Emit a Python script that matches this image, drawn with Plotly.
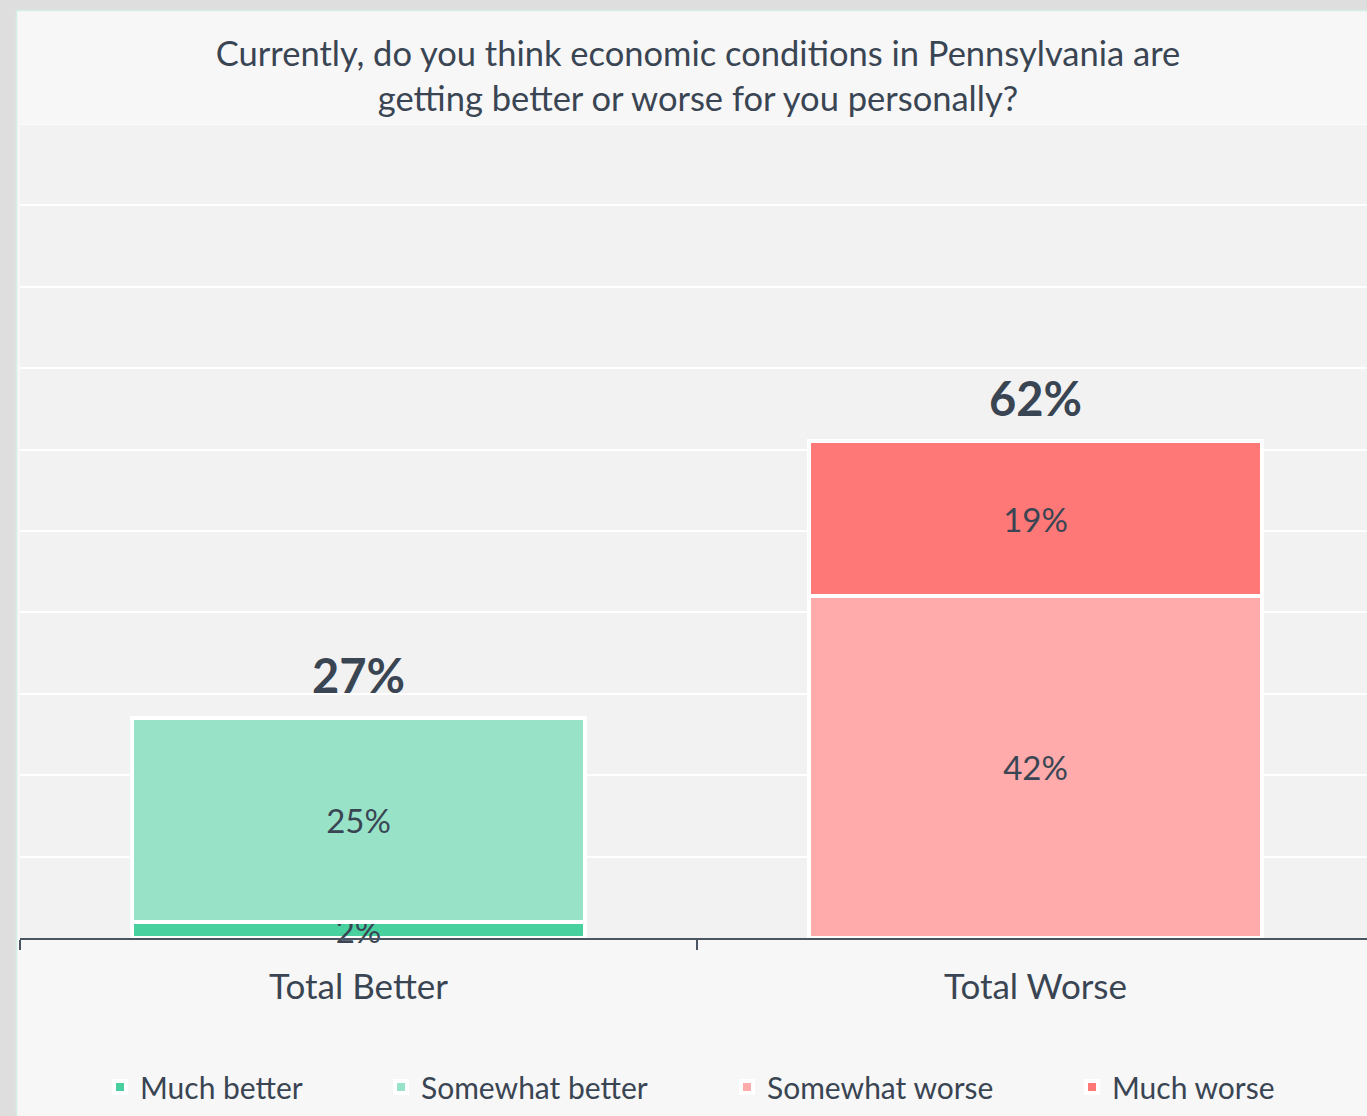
import plotly.graph_objects as go

categories = ["Total Better", "Total Worse"]
much_better = [2, None]
somewhat_better = [25, None]
somewhat_worse = [None, 42]
much_worse = [None, 19]
totals = [27, 62]
total_labels = ["27%", "62%"]

series_names = ["Much better", "Somewhat better", "Somewhat worse", "Much worse"]
series_values = [much_better, somewhat_better, somewhat_worse, much_worse]
series_colors = ["#48d19e", "#98e2c8", "#ffabab", "#ff7878"]

W, H = 1374, 1116
L, R, T, B = 20, 0, 124, 178
PW = W - L - R
PH = H - T - B

def px_x(px):
    return (px - L) / PW

def px_y(py):
    return (H - B - py) / PH

FONT = "Lato"
TXT = "#3a4553"

fig = go.Figure()
legend_x_px = [100, 381, 727, 1072]
legend_ids = ["legend", "legend2", "legend3", "legend4"]
for name, vals, col, lid in zip(series_names, series_values, series_colors, legend_ids):
    fig.add_trace(go.Bar(
        x=categories, y=vals, name=name,
        marker=dict(color=col, line=dict(color="white", width=4)),
        text=[f"{v}%" if v is not None else "" for v in vals],
        textposition="inside", insidetextanchor="middle",
        textfont=dict(family=FONT, size=33, color=TXT),
        width=0.67,
        cliponaxis=False,
        legend=lid,
        hoverinfo="skip",
    ))

for cat, tot, lab in zip(categories, totals, total_labels):
    fig.add_annotation(x=cat, y=tot - 1 if tot == 62 else tot, text=f"<b>{lab}</b>", showarrow=False,
                       yanchor="bottom", yshift=13,
                       font=dict(family=FONT, size=47, color=TXT))

shapes = [
    dict(type="line", xref="paper", yref="y", x0=0, x1=1, y0=100, y1=100,
         line=dict(color="white", width=1.5), layer="below"),
    dict(type="rect", xref="paper", yref="paper", x0=px_x(0), x1=px_x(16), y0=px_y(H), y1=px_y(0),
         fillcolor="#dedede", line=dict(width=0), layer="above"),
    dict(type="rect", xref="paper", yref="paper", x0=px_x(0), x1=px_x(W), y0=px_y(10), y1=px_y(0),
         fillcolor="#dedede", line=dict(width=0), layer="above"),
    dict(type="line", xref="paper", yref="paper", x0=px_x(16.5), x1=px_x(16.5), y0=px_y(H), y1=px_y(10),
         line=dict(color="#d3efe5", width=1.5), layer="above"),
    dict(type="line", xref="paper", yref="paper", x0=px_x(16), x1=px_x(W), y0=px_y(10.5), y1=px_y(10.5),
         line=dict(color="#d3efe5", width=1.5), layer="above"),
]

legends = {}
for lid, lx in zip(legend_ids, legend_x_px):
    legends[lid] = dict(x=px_x(lx), xanchor="left", y=px_y(1087), yanchor="middle",
                        orientation="h", bgcolor="rgba(0,0,0,0)", borderwidth=0,
                        font=dict(family=FONT, size=30, color=TXT))

fig.update_layout(
    width=W, height=H,
    margin=dict(l=L, r=R, t=T, b=B, autoexpand=False),
    paper_bgcolor="#f7f7f7",
    plot_bgcolor="#f2f2f2",
    barmode="stack",
    title=dict(text="Currently, do you think economic conditions in Pennsylvania are<br>getting better or worse for you personally?",
               xref="container", yref="container",
               x=698 / W, xanchor="center", y=1 - 66 / H, yanchor="middle",
               font=dict(family=FONT, size=34.5, color=TXT)),
    xaxis=dict(showline=True, linecolor="#4b5561", linewidth=2,
               ticks="outside", tickson="boundaries", ticklen=10, tickcolor="#4b5561", tickwidth=1.5,
               tickfont=dict(family=FONT, size=35, color=TXT), ticklabelstandoff=17,
               showgrid=False, fixedrange=True),
    yaxis=dict(range=[0, 100], dtick=10, showticklabels=False, gridcolor="white", gridwidth=1.5,
               zeroline=False, fixedrange=True),
    uniformtext=dict(mode="show", minsize=33),
    shapes=shapes,
    showlegend=True,
    **legends,
)

fig.write_html("out.html", config={"displayModeBar": False},
               post_script="document.body.style.margin='0';document.body.style.overflow='hidden';")
